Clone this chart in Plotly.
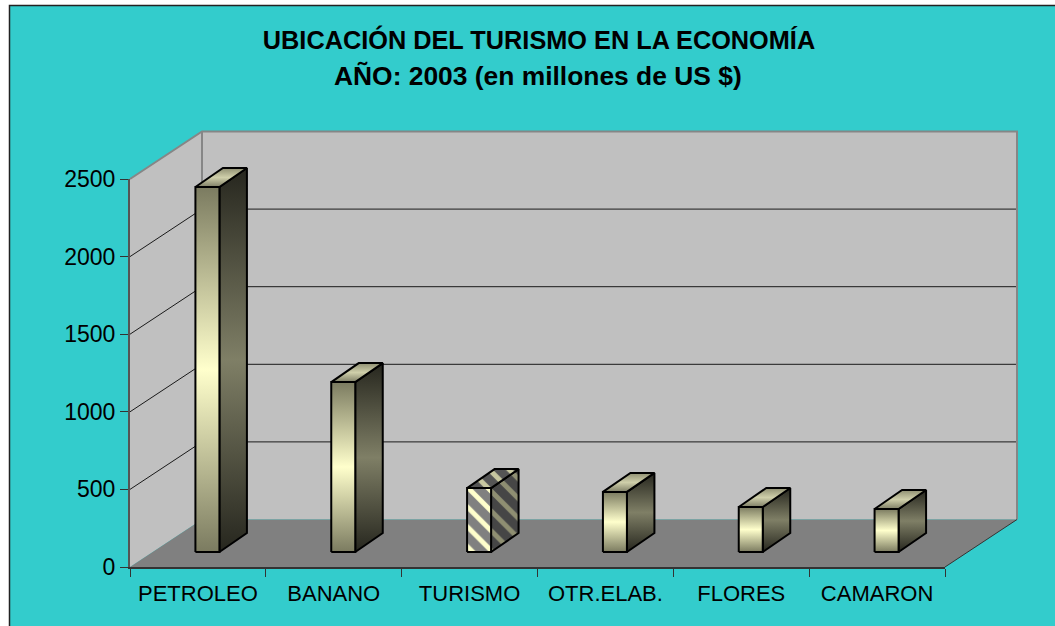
import plotly.graph_objects as go

CATEGORIES = ["PETROLEO", "BANANO", "TURISMO", "OTR.ELAB.", "FLORES", "CAMARON"]
VALUES = [2352, 1095, 412, 387, 290, 277]
Y_TICKS = [0, 500, 1000, 1500, 2000, 2500]
HATCHED = "TURISMO"
TITLE_1 = "<b>UBICACIÓN DEL TURISMO EN LA ECONOMÍA</b>"
TITLE_2 = "<b>AÑO: 2003 (en millones de US $)</b>"

W, H = 1055, 626
LEFT, RIGHT, BOTTOM, TOP = 130, 945, 567, 179
YMAX = Y_TICKS[-1]
PX_CAT = (RIGHT - LEFT) / len(CATEGORIES)
PX_VAL = (BOTTOM - TOP) / YMAX
WALL_DX, WALL_DY = 72 / PX_CAT, 47.5 / PX_VAL
BAR_W, BAR_DX, BAR_DY = 24 / PX_CAT, 27.5 / PX_CAT, 19 / PX_VAL
BAR_X0, BAR_LIFT = -2.5 / PX_CAT, 15 / PX_VAL
X_MIN, X_MAX = -0.5, len(CATEGORIES) - 0.5

TEAL, WALL, FLOOR, EDGE = "#33cccc", "#c0c0c0", "#808080", "#868686"
FONT = "Liberation Sans, Arial, sans-serif"
FRONT = [[0, "#7b7b60"], [0.5, "#ffffcc"], [1, "#7b7b60"]]
SIDE = [[0, "#26261e"], [0.5, "#7f7f66"], [1, "#26261e"]]
CAP = [[0, "#7f7f66"], [0.5, "#cfcfaa"], [1, "#8f8f72"]]

fig = go.Figure()


def poly(xs, ys, color=None, line=None, lw=0, grad=None, pattern=None):
    kw = {}
    if grad:
        kw["fillgradient"] = dict(type="vertical", colorscale=grad)
    if pattern:
        kw["fillpattern"] = pattern
    fig.add_trace(go.Scatter(
        x=list(xs) + [xs[0]], y=list(ys) + [ys[0]], xaxis="x2", yaxis="y2",
        mode="lines", fill="toself", fillcolor=color,
        line=dict(color=line or "rgba(0,0,0,0)", width=lw),
        hoverinfo="skip", showlegend=False, **kw))


def seg(xs, ys, color, lw):
    fig.add_trace(go.Scatter(x=xs, y=ys, xaxis="x2", yaxis="y2", mode="lines",
                             line=dict(color=color, width=lw),
                             hoverinfo="skip", showlegend=False))


# walls and floor
poly([X_MIN, X_MIN + WALL_DX, X_MIN + WALL_DX, X_MIN], [YMAX, YMAX + WALL_DY, WALL_DY, 0], WALL)
poly([X_MIN + WALL_DX, X_MAX + WALL_DX, X_MAX + WALL_DX, X_MIN + WALL_DX],
     [YMAX + WALL_DY, YMAX + WALL_DY, WALL_DY, WALL_DY], WALL)
poly([X_MIN, X_MAX, X_MAX + WALL_DX, X_MIN + WALL_DX], [0, 0, WALL_DY, WALL_DY], FLOOR)

# gridlines
for t in Y_TICKS[1:-1]:
    seg([X_MIN, X_MIN + WALL_DX, X_MAX + WALL_DX], [t, t + WALL_DY, t + WALL_DY], "#1a1a1a", 1)

# wall borders
seg([X_MIN, X_MIN + WALL_DX, X_MAX + WALL_DX, X_MAX + WALL_DX],
    [YMAX, YMAX + WALL_DY, YMAX + WALL_DY, WALL_DY], EDGE, 2)
seg([X_MIN + WALL_DX, X_MIN + WALL_DX], [YMAX + WALL_DY, WALL_DY], EDGE, 2)
seg([X_MAX, X_MAX + WALL_DX], [0, WALL_DY], "#333333", 1)

# bars
for i, (cat, val) in enumerate(zip(CATEGORIES, VALUES)):
    x0 = i + BAR_X0
    x1 = x0 + BAR_W
    y0 = BAR_LIFT
    y1 = BAR_LIFT + val
    hatch = cat == HATCHED
    pat = lambda bg, fg: dict(shape="\\", bgcolor=bg, fgcolor=fg, size=14, solidity=0.35, fillmode="replace")
    poly([x1, x1 + BAR_DX, x1 + BAR_DX, x1], [y0, y0 + BAR_DY, y1 + BAR_DY, y1], line="black", lw=2,
         grad=None if hatch else SIDE, pattern=pat("#464646", "#8f8f72") if hatch else None)
    poly([x0, x1, x1 + BAR_DX, x0 + BAR_DX], [y1, y1, y1 + BAR_DY, y1 + BAR_DY], line="black", lw=2,
         grad=None if hatch else CAP, pattern=pat("#555555", "#c8c8a0") if hatch else None)
    poly([x0, x1, x1, x0], [y0, y0, y1, y1], line="black", lw=2,
         grad=None if hatch else FRONT, pattern=pat("#808080", "#ffffcc") if hatch else None)

# category / value axes
fig.add_trace(go.Scatter(x=CATEGORIES, y=VALUES, mode="none", hoverinfo="skip", showlegend=False))

fig.update_layout(
    width=W, height=H, margin=dict(l=0, r=0, t=0, b=0, pad=0, autoexpand=False),
    paper_bgcolor="white", plot_bgcolor="rgba(0,0,0,0)", showlegend=False,
    font=dict(family=FONT, color="black"),
    title=dict(text=TITLE_1, x=539 / W, xanchor="center", y=1 - 40 / H, yanchor="middle",
               font=dict(size=25.3, color="black", family=FONT)),
    annotations=[dict(text=TITLE_2, xref="paper", yref="paper", x=538 / W, y=1 - 76 / H,
                      xanchor="center", yanchor="middle", showarrow=False,
                      font=dict(size=26.4, color="black", family=FONT))],
    xaxis=dict(domain=[LEFT / W, RIGHT / W], type="category", categoryorder="array",
               categoryarray=CATEGORIES, range=[X_MIN, X_MAX], tickson="boundaries",
               ticks="outside", ticklen=8, tickcolor="#333333", showgrid=False, zeroline=False,
               showline=True, linecolor="#333333", linewidth=2, tickfont=dict(size=22),
               ticklabelstandoff=6, layer="above traces"),
    yaxis=dict(domain=[(H - BOTTOM) / H, (H - TOP) / H], range=[0, YMAX], tickvals=Y_TICKS,
               ticks="outside", ticklen=8, tickcolor="#333333", showgrid=False, zeroline=False,
               showline=True, linecolor="#555555", linewidth=2, tickfont=dict(size=23), layer="above traces"),
    xaxis2=dict(domain=[0, 1], anchor="y2", visible=False,
                range=[X_MIN - LEFT / PX_CAT, X_MIN + (W - LEFT) / PX_CAT]),
    yaxis2=dict(domain=[0, 1], anchor="x2", visible=False,
                range=[-(H - BOTTOM) / PX_VAL, BOTTOM / PX_VAL]),
    shapes=[dict(type="rect", xref="paper", yref="paper", x0=9.5 / W, x1=1.02, y0=-0.02, y1=1 - 5.5 / H,
                 fillcolor=TEAL, line=dict(color="#222222", width=1.5), layer="below")],
)

fig.write_html("out.html", config={"displayModeBar": False},
               post_script="document.body.style.margin='0';")
